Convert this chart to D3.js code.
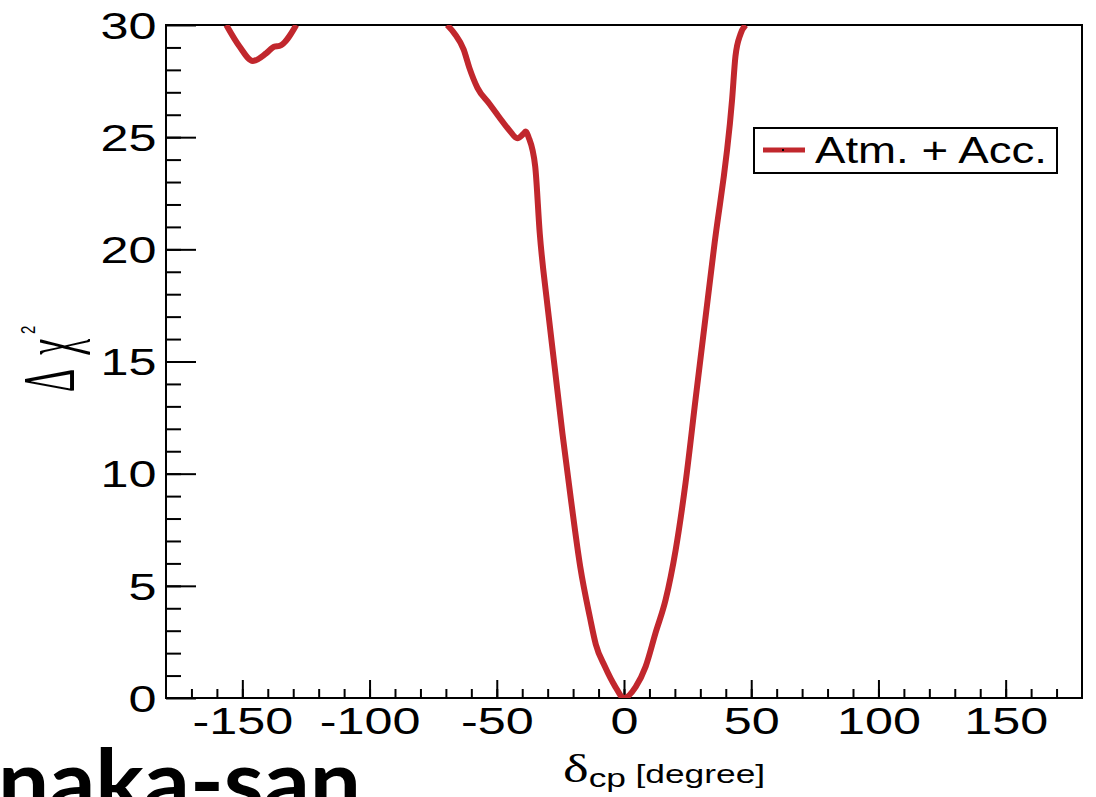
<!DOCTYPE html>
<html>
<head>
<meta charset="UTF-8">
<title></title>
<script src="https://cdn.jsdelivr.net/npm/d3@7"></script>
<style>
  body { margin: 0; background: #fff; }
  svg { display: block; }
</style>
</head>
<body>
<div id="chart"></div>
<script>
// delta_cp [degree] and delta chi^2
var deltaSide = [-156.3, -151.1, -145.9, -140.6, -137.4, -135.4, -128.8];
var chi2Side  = [30.0, 29.04, 28.40, 28.74, 29.04, 29.07, 30.0];

var deltaMain = [-69.5, -66.5, -63, -60.8, -57.6, -53, -49.1, -45, -41.9, -39.5, -38.6, -37.5, -34.9,
                 -33.1, -30.3, -27.3, -24.2, -20.8, -17.2, -13.4, -11.1, -7.5, -3.4, 0,
                 4.6, 8.5, 12.4, 16.4, 20.3, 24.2, 28.1, 35.3, 42.5, 43.8, 45.8, 47.8];
var chi2Main  = [30.0, 29.6, 28.9, 28.1, 27.2, 26.5, 25.9, 25.3, 24.95, 25.15, 25.25, 25.0, 23.7,
                 20.7, 17.7, 14.8, 11.8, 8.8, 5.85, 3.6, 2.4, 1.4, 0.5, 0,
                 0.5, 1.4, 2.9, 4.4, 6.6, 9.6, 13.3, 20.0, 26.7, 28.6, 29.6, 30.0];

var xMajor = [-150, -100, -50, 0, 50, 100, 150];
var yMajor = [0, 5, 10, 15, 20, 25, 30];
var legendLabel = 'Atm. + Acc.';

function drawChart() {
    var W = 1096, H = 797;
    var pl = 166, pr = 1082, pt = 25, pb = 698;
    var red = '#c1272d';
    var sx = 1.36;   // the picture is stretched sideways
    var sans = 'Liberation Sans, Arial, sans-serif';
    var serif = 'Liberation Serif, Times New Roman, serif';

    var svg = d3.select('#chart').append('svg')
        .attr('width', W).attr('height', H);

    var x = d3.scaleLinear().domain([-180, 180]).range([pl, pr]);
    var y = d3.scaleLinear().domain([0, 30]).range([pb, pt]);

    // minor ticks
    svg.append('g')
        .attr('transform', 'translate(0,' + pb + ')')
        .call(d3.axisBottom(x).tickValues(d3.range(-170, 180, 10)).tickSizeInner(-9).tickSizeOuter(0).tickFormat(''));
    svg.append('g')
        .attr('transform', 'translate(' + pl + ',0)')
        .call(d3.axisLeft(y).tickValues(d3.range(1, 30, 1)).tickSizeInner(-15).tickSizeOuter(0).tickFormat(''));

    // major ticks + labels
    var gx = svg.append('g')
        .attr('transform', 'translate(0,' + pb + ')')
        .call(d3.axisBottom(x).tickValues(xMajor).tickSizeInner(-18).tickSizeOuter(0).tickPadding(10)
            .tickFormat(function(d){ return String(d); }));
    var gy = svg.append('g')
        .attr('transform', 'translate(' + pl + ',0)')
        .call(d3.axisLeft(y).tickValues(yMajor).tickSizeInner(-30).tickSizeOuter(0).tickPadding(7)
            .tickFormat(function(d){ return String(d); }));

    svg.selectAll('.tick line').attr('stroke', '#000').attr('stroke-width', 2);
    svg.selectAll('.domain').remove();
    gx.selectAll('text')
        .attr('font-family', sans)
        .attr('font-size', 37).attr('fill', '#000')
        .attr('transform', 'scale(' + sx + ',1)');
    gy.selectAll('text')
        .attr('font-family', sans)
        .attr('font-size', 37).attr('fill', '#000')
        .attr('dy', '0.36em')
        .attr('transform', 'scale(' + sx + ',1)');

    // frame
    svg.append('rect')
        .attr('x', pl).attr('y', pt)
        .attr('width', pr - pl).attr('height', pb - pt)
        .attr('fill', 'none').attr('stroke', '#000').attr('stroke-width', 2);

    // curve
    svg.append('clipPath').attr('id', 'clip')
      .append('rect')
        .attr('x', pl).attr('y', pt)
        .attr('width', pr - pl).attr('height', pb - pt);

    var line = d3.line()
        .x(function(d){ return x(d[0]); })
        .y(function(d){ return y(d[1]); })
        .curve(d3.curveMonotoneX);

    var segments = [d3.zip(deltaSide, chi2Side), d3.zip(deltaMain, chi2Main)];
    svg.append('g').attr('clip-path', 'url(#clip)')
      .selectAll('path')
      .data(segments)
      .enter()
      .append('path')
        .attr('d', line)
        .attr('fill', 'none')
        .attr('stroke', red)
        .attr('stroke-width', 6)
        .attr('stroke-linejoin', 'round');

    // legend
    var lg = svg.append('g');
    lg.append('rect')
        .attr('x', 754).attr('y', 128).attr('width', 303).attr('height', 45)
        .attr('fill', '#fff').attr('stroke', '#000').attr('stroke-width', 2);
    lg.append('line')
        .attr('x1', 763).attr('x2', 805).attr('y1', 150).attr('y2', 150)
        .attr('stroke', red).attr('stroke-width', 5);
    lg.append('rect')
        .attr('x', 782).attr('y', 149).attr('width', 2).attr('height', 2).attr('fill', '#000');
    lg.append('text')
        .attr('x', 815).attr('y', 163)
        .attr('font-family', sans)
        .attr('font-size', 37)
        .attr('textLength', 232).attr('lengthAdjust', 'spacingAndGlyphs')
        .text(legendLabel);

    // x title
    var xt = svg.append('text')
        .attr('transform', 'translate(563,782) scale(' + sx + ',1)')
        .attr('fill', '#000');
    xt.append('tspan')
        .attr('font-family', serif)
        .attr('font-size', 40)
        .text('δ');
    xt.append('tspan')
        .attr('font-family', sans)
        .attr('font-size', 26).attr('dy', 5)
        .text('cp');
    xt.append('tspan')
        .attr('font-family', sans)
        .attr('font-size', 26).attr('dy', -4).attr('dx', 7)
        .text('[degree]');

    // y title
    var yt = svg.append('text')
        .attr('transform', 'translate(74,392) scale(2.05,1) rotate(-90)')
        .attr('font-family', serif)
        .attr('font-size', 36)
        .attr('fill', '#000');
    yt.append('tspan').text('Δ');
    yt.append('tspan').attr('dx', 14).text('χ');
    svg.append('text')
        .attr('transform', 'translate(35,334) scale(1.4,1) rotate(-90)')
        .attr('font-family', sans)
        .attr('font-size', 15)
        .attr('fill', '#000')
        .text('2');

    // slide text cut at the bottom left
    svg.append('text')
        .attr('x', -2).attr('y', 813)
        .attr('font-family', 'Lato, sans-serif')
        .attr('font-weight', 700)
        .attr('font-size', 88)
        .attr('textLength', 363).attr('lengthAdjust', 'spacingAndGlyphs')
        .text('naka-san');
}
drawChart();
</script>
</body>
</html>
